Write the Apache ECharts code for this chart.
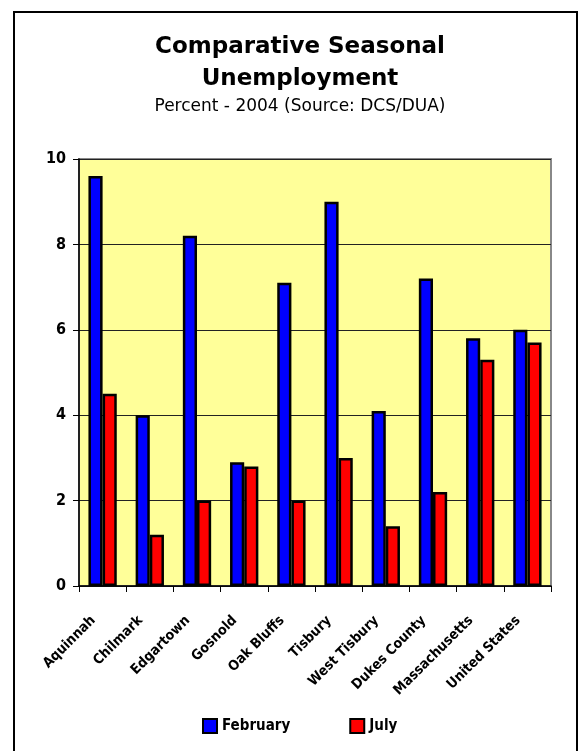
<!DOCTYPE html>
<html>
<head>
<meta charset="utf-8">
<script src="https://cdn.jsdelivr.net/npm/echarts@6/dist/echarts.min.js"></script>
<style>
  html, body { margin: 0; padding: 0; background: #fff; }
  #frame { position: absolute; left: 13px; top: 11px; width: 565px; height: 760px;
           border: 2px solid #000; border-bottom: none; box-sizing: border-box; }
  #charts { position: absolute; left: 0; top: 0; width: 579px; height: 751px; }
</style>
</head>
<body>
<div id="frame"></div>
<div id="charts"></div>
<script>
var categories = ['Aquinnah', 'Chilmark', 'Edgartown', 'Gosnold', 'Oak Bluffs',
    'Tisbury', 'West Tisbury', 'Dukes County', 'Massachusetts', 'United States'];
var february = [9.6, 4.0, 8.2, 2.9, 7.1, 9.0, 4.1, 7.2, 5.8, 6.0];
var july = [4.5, 1.2, 2.0, 2.8, 2.0, 3.0, 1.4, 2.2, 5.3, 5.7];
var yTicks = [0, 2, 4, 6, 8, 10];

var labelFont = '"DejaVu Sans Condensed", "DejaVu Sans", sans-serif';

// 初始化图表实例
var chart = echarts.init(document.getElementById('charts'));

var option = {
    animation: false,
    title: [{
        text: 'Comparative Seasonal\nUnemployment',
        left: 295,
        textAlign: 'center',
        top: 26,
        textStyle: {
            fontFamily: '"DejaVu Sans", sans-serif',
            fontWeight: 'bold',
            fontSize: 23,
            lineHeight: 32,
            color: '#000'
        }
    }, {
        text: 'Percent - 2004 (Source: DCS/DUA)',
        left: 295,
        textAlign: 'center',
        top: 93,
        textStyle: {
            fontFamily: '"DejaVu Sans", sans-serif',
            fontWeight: 'normal',
            fontSize: 17,
            color: '#000'
        }
    }],
    legend: {
        data: ['February', 'July'],
        bottom: 12,
        left: 197,
        itemGap: 59,
        itemWidth: 14,
        itemHeight: 14,
        icon: 'rect',
        itemStyle: { borderColor: '#000', borderWidth: 2 },
        textStyle: {
            fontFamily: labelFont,
            fontWeight: 'bold',
            fontSize: 15,
            color: '#000'
        }
    },
    grid: {
        left: 79,
        right: 28,
        top: 159,
        bottom: 165,
        backgroundColor: '#FFFF99',
        borderColor: '#888',
        borderWidth: 2,
        show: true
    },
    xAxis: {
        type: 'category',
        data: categories,
        axisLine: { lineStyle: { color: '#000', width: 1.5 } },
        axisTick: { show: true, length: 6, lineStyle: { color: '#000' } },
        axisLabel: {
            rotate: 45,
            margin: 23,
            interval: 0,
            fontFamily: labelFont,
            fontWeight: 'bold',
            fontSize: 14,
            color: '#000',
            formatter: function (v) { return v + '   '; }
        }
    },
    yAxis: {
        type: 'value',
        min: yTicks[0],
        max: yTicks[yTicks.length - 1],
        interval: 2,
        axisLine: { show: true, lineStyle: { color: '#000', width: 1.5 } },
        axisTick: { show: true, length: 6, lineStyle: { color: '#000' } },
        axisLabel: {
            margin: 13,
            fontFamily: labelFont,
            fontWeight: 'bold',
            fontSize: 16,
            color: '#000'
        },
        splitLine: { lineStyle: { color: '#222', width: 1 } }
    },
    series: [{
        name: 'February',
        type: 'bar',
        data: february,
        barGap: '0%',
        barCategoryGap: '40%',
        itemStyle: { color: '#0000FF', borderColor: '#000', borderWidth: 2.5 }
    }, {
        name: 'July',
        type: 'bar',
        data: july,
        itemStyle: { color: '#FF0000', borderColor: '#000', borderWidth: 2.5 }
    }]
};

chart.setOption(option);
</script>
</body>
</html>
